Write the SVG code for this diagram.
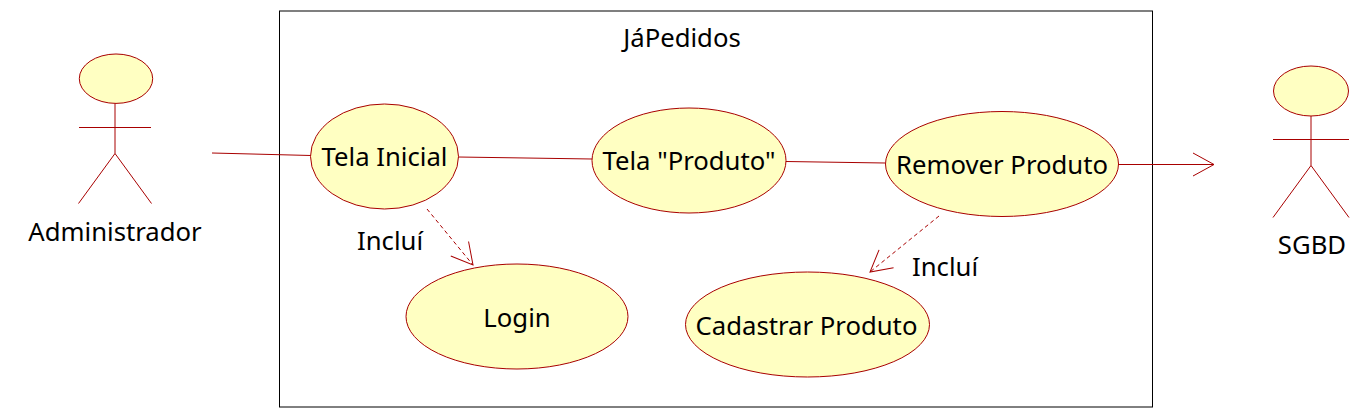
<svg xmlns="http://www.w3.org/2000/svg" width="1372" height="417" viewBox="0 0 1372 417">
<defs>
<marker id="open" markerUnits="userSpaceOnUse" markerWidth="30" markerHeight="28" refX="24" refY="14" orient="auto"><path d="M3 2.500L24 14L3 25.500" fill="none" stroke="#a80000"/></marker>
</defs>
<style>
text{font-family:"Noto Sans","Open Sans",sans-serif;font-size:25.7px;fill:#000;text-anchor:middle}
.uc{fill:#ffffc2;stroke:#a80000;stroke-width:1}
.ln{fill:none;stroke:#a80000;stroke-width:1}
.da{stroke-dasharray:4 3}
</style>
<rect width="1372" height="417" fill="#fff"/>
<g id="system"><rect x="279.500" y="11" width="873" height="396" fill="#fff" stroke="#000"/><text x="682" y="47">JáPedidos</text></g>
<g id="connectors">
<path class="ln" d="M212 153L311 155.500"/>
<path class="ln" d="M458 157L592 159"/>
<path class="ln" d="M786 161.500L885 163"/>
<path class="ln" d="M1118 164.500H1214" marker-end="url(#open)"/>
<path class="ln da" d="M427 209L473 265" marker-end="url(#open)"/>
<path class="ln da" d="M939 216L870 272" marker-end="url(#open)"/>
</g>
<g id="label-inclui-1"><text x="390" y="250">Incluí</text></g>
<g id="label-inclui-2"><text x="945" y="276">Incluí</text></g>
<g id="actor-admin"><ellipse class="uc" cx="116" cy="78.700" rx="36.700" ry="24.700"/><path class="ln" d="M115 103.500V153.500M79 127.500H151M115 153.500L78.500 203.500M115 153.500L151.500 203.500"/><text x="115" y="241">Administrador</text></g>
<g id="actor-sgbd"><ellipse class="uc" cx="1311" cy="91" rx="37.500" ry="25"/><path class="ln" d="M1311 116V165.500M1273 139.500H1349M1311 165.500L1273 217.500M1311 165.500L1349 217.500"/><text x="1312" y="254">SGBD</text></g>
<g id="uc-tela-inicial"><ellipse class="uc" cx="384.500" cy="156.500" rx="74" ry="52.500"/><text x="384.500" y="166">Tela Inicial</text></g>
<g id="uc-tela-produto"><ellipse class="uc" cx="689" cy="160.500" rx="97" ry="52.500"/><text x="689" y="170">Tela "Produto"</text></g>
<g id="uc-remover"><ellipse class="uc" cx="1002" cy="164" rx="116.500" ry="52.500"/><text x="1002" y="174">Remover Produto</text></g>
<g id="uc-login"><ellipse class="uc" cx="517" cy="316.500" rx="111" ry="52.500"/><text x="517" y="327">Login</text></g>
<g id="uc-cadastrar"><ellipse class="uc" cx="807.500" cy="324.500" rx="122" ry="52.500"/><text x="806.500" y="335">Cadastrar Produto</text></g>
</svg>
